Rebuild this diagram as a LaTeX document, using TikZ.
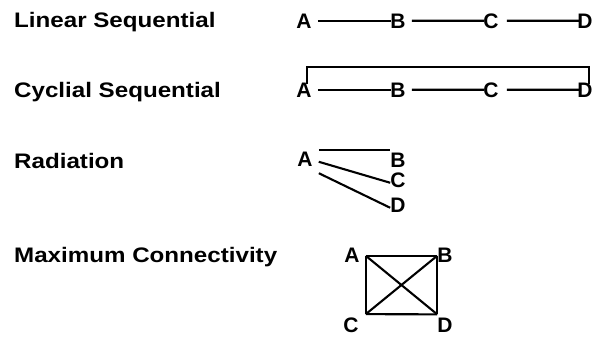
\documentclass[tikz,border=0pt]{standalone}
\usepackage{fontspec}
\setmainfont{Liberation Sans}
\newfontfamily\lblfont[FakeStretch=1.15]{Liberation Sans}
\begin{document}
\begin{tikzpicture}[x=1pt,y=-1pt,
  lbl/.style={anchor=base west,inner sep=0,font=\lblfont\bfseries\fontsize{21}{24}\selectfont},
  ltr/.style={anchor=base,inner sep=0,font=\bfseries\fontsize{21}{24}\selectfont},
  conn/.style={line width=2.1pt}]
\useasboundingbox[fill=white] (0,0) rectangle (598,338);
% labels
\node[lbl] (l1) at (14,27) {Linear Sequential};
\node[lbl] (l2) at (14,97) {Cyclial Sequential};
\node[lbl] (l3) at (14,168) {Radiation};
\node[lbl] (l4) at (14,262) {Maximum Connectivity};
% row 1
\node[ltr] (A1) at (304,28) {A};
\node[ltr] (B1) at (398,28) {B};
\node[ltr] (C1) at (491,28) {C};
\node[ltr] (D1) at (585,28) {D};
\draw[conn] ([shift={(6,0)}]A1.east) -- ([shift={(1,0)}]B1.west);
\draw[conn] ([shift={(6,0)}]B1.east) -- ([shift={(1,0)}]C1.west);
\draw[conn] ([shift={(8,0)}]C1.east) -- ([shift={(4,0)}]D1.west);
% row 2
\node[ltr] (A2) at (304,97) {A};
\node[ltr] (B2) at (398,97) {B};
\node[ltr] (C2) at (491,97) {C};
\node[ltr] (D2) at (585,97) {D};
\draw[conn] ([shift={(6,0)}]A2.east) -- ([shift={(1,0)}]B2.west);
\draw[conn] ([shift={(6,0)}]B2.east) -- ([shift={(1,0)}]C2.west);
\draw[conn] ([shift={(8,0)}]C2.east) -- ([shift={(4,0)}]D2.west);
\draw[conn] ([shift={(3,2)}]A2.north) -- ++(0,-17) -| ([shift={(4,2)}]D2.north);
% radiation
\node[ltr] (A3) at (305,166) {A};
\node[ltr] (B3) at (398,167) {B};
\node[ltr] (C3) at (398,187) {C};
\node[ltr] (D3) at (398,212) {D};
\draw[conn] ([shift={(6,-1)}]A3.north east) -- ([shift={(0,-2)}]B3.north west);
\draw[conn] ([shift={(6,3)}]A3.east) -- ([shift={(0,3)}]C3.west);
\draw[conn] ([shift={(6,7)}]A3.south east) -- ([shift={(0,3)}]D3.west);
% maximum connectivity
\node[ltr] (A4) at (352,262) {A};
\node[ltr] (B4) at (445,262) {B};
\node[ltr] (C4) at (351,332) {C};
\node[ltr] (D4) at (445,332) {D};
\coordinate (pa) at ([shift={(6,1)}]A4.east);
\coordinate (pb) at ([shift={(0,1)}]B4.west);
\coordinate (pc) at ([shift={(7,-3)}]C4.north east);
\coordinate (pd) at ([shift={(0,-3)}]D4.north west);
\draw[conn] (pa) -- (pb);
\draw[conn] (pb) -- (pd);
\draw[conn] (pd) -- (pc);
\draw[conn] (pc) -- (pa);
\draw[conn] (pa) -- (pd);
\draw[conn] (pb) -- (pc);
\end{tikzpicture}
\end{document}
